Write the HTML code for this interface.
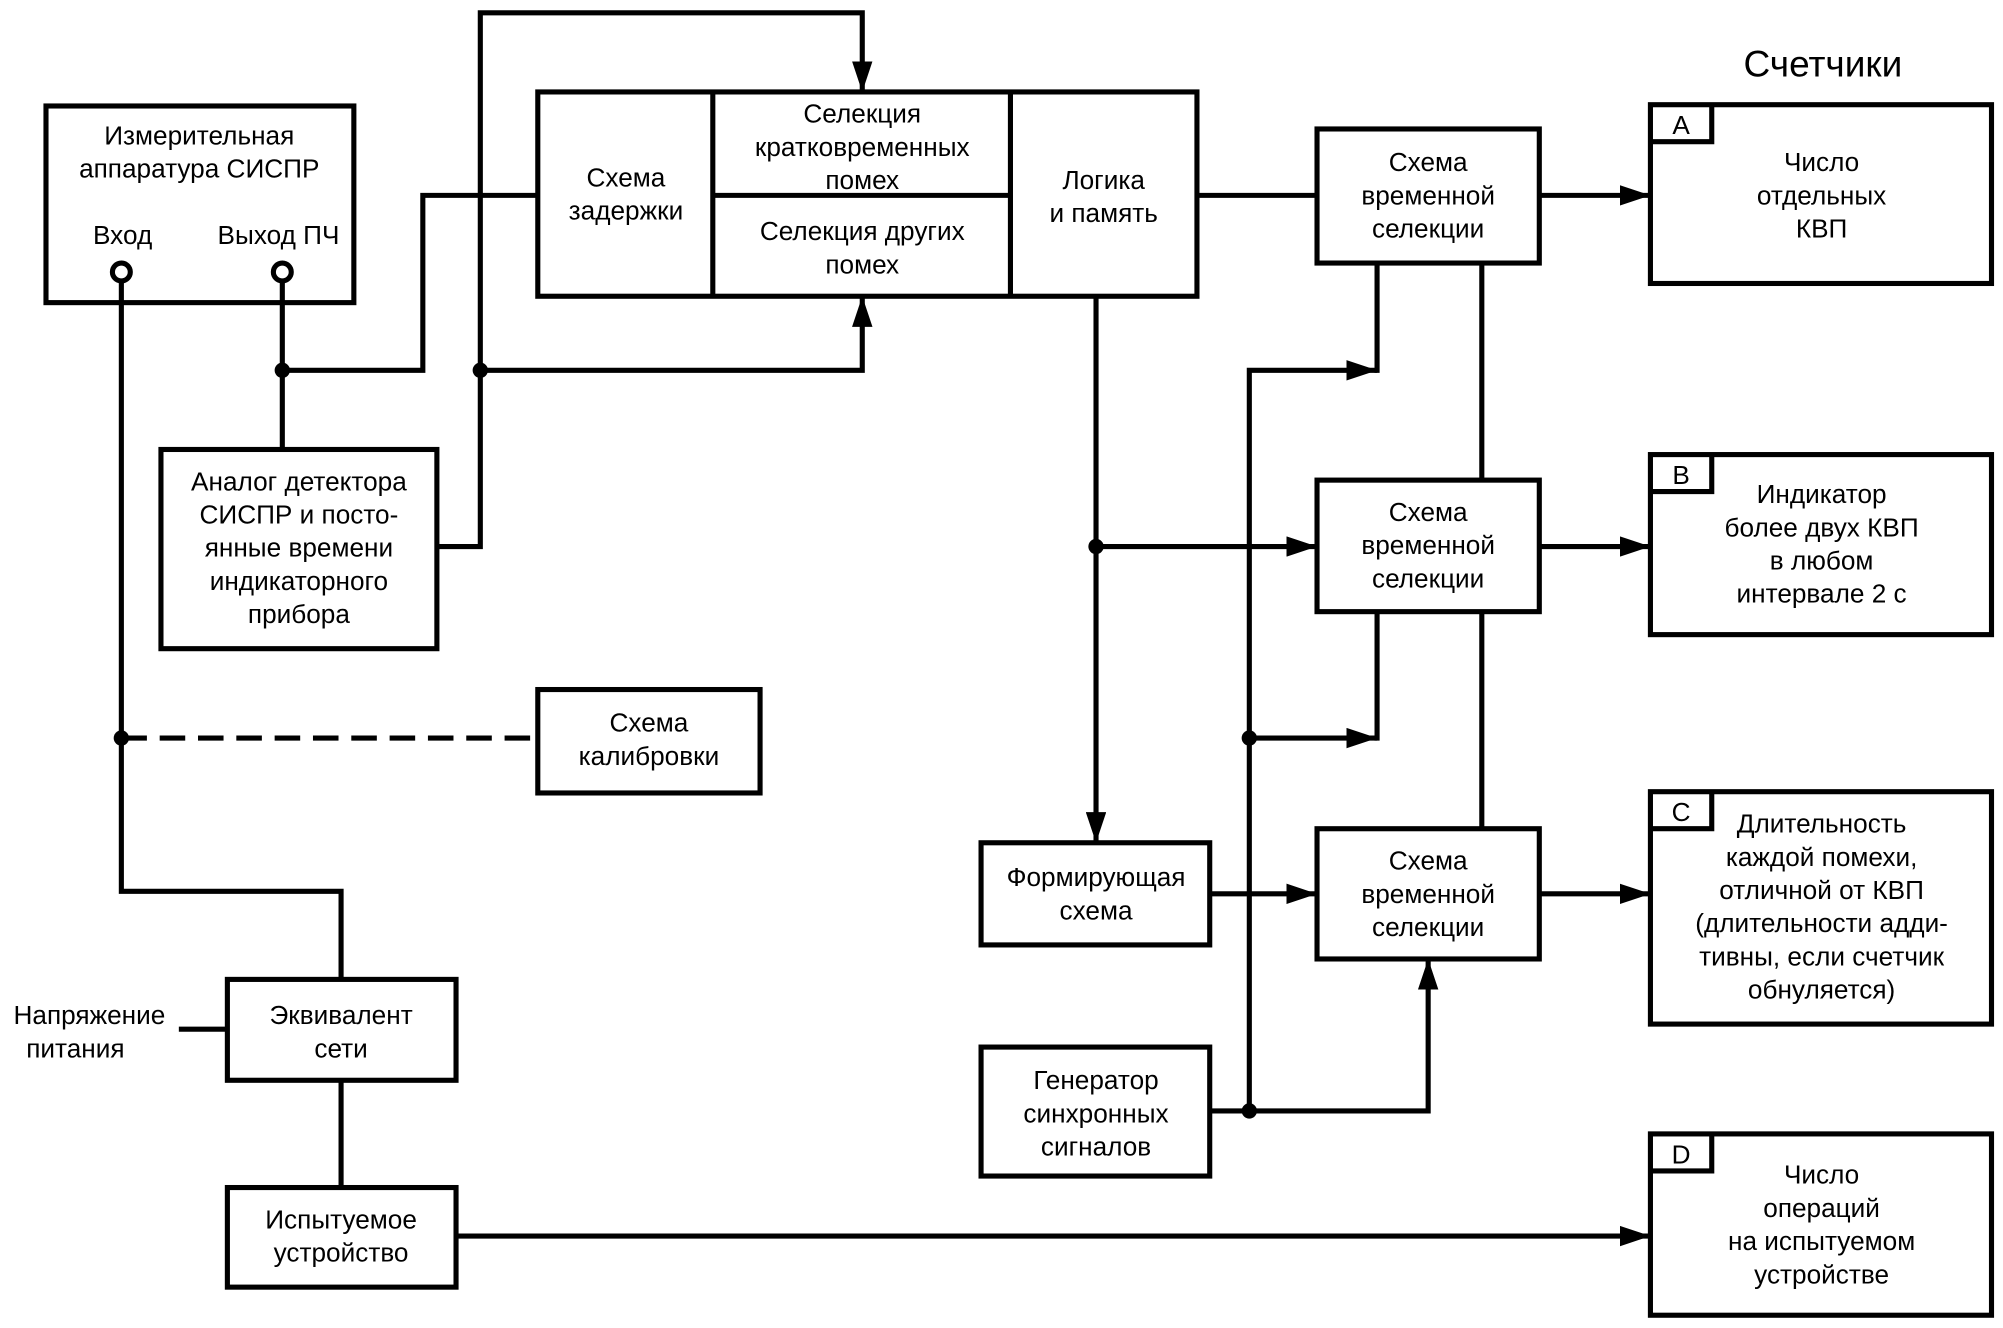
<!DOCTYPE html>
<html><head><meta charset="utf-8"><style>
html,body{margin:0;padding:0;background:#fff}
svg{display:block}
text{font-family:"Liberation Sans",Arial,sans-serif;font-size:20.5px;fill:#000;text-anchor:middle}
</style></head><body>
<svg width="2003" height="1328" viewBox="0 0 1568 1040" preserveAspectRatio="none" xmlns="http://www.w3.org/2000/svg">
<defs>
<marker id="ar" viewBox="0 0 24 16" refX="24" refY="8" markerWidth="24" markerHeight="16" markerUnits="userSpaceOnUse" orient="auto">
<path d="M0,0 L24,8 L0,16 z" fill="#000"/></marker>
</defs>
<g fill="none" stroke="#000" stroke-width="4">
<rect x="36" y="83" width="241" height="154"/>
<rect x="421" y="72" width="516" height="160"/>
<line x1="558" y1="72" x2="558" y2="232"/>
<line x1="791" y1="72" x2="791" y2="232"/>
<line x1="558" y1="153" x2="791" y2="153"/>
<rect x="1031" y="101" width="174" height="105"/>
<rect x="1292" y="82" width="267" height="140"/>
<polyline points="1292,111 1340,111 1340,82"/>
<rect x="126" y="352" width="216" height="156"/>
<rect x="421" y="540" width="174" height="81"/>
<rect x="1031" y="376" width="174" height="103"/>
<rect x="1292" y="356" width="267" height="141"/>
<polyline points="1292,385 1340,385 1340,356"/>
<rect x="768" y="660" width="179" height="80"/>
<rect x="1031" y="649" width="174" height="102"/>
<rect x="1292" y="620" width="267" height="182"/>
<polyline points="1292,649 1340,649 1340,620"/>
<rect x="768" y="820" width="179" height="101"/>
<rect x="178" y="767" width="179" height="79"/>
<rect x="178" y="930" width="179" height="78"/>
<rect x="1292" y="888" width="267" height="142"/>
<polyline points="1292,917 1340,917 1340,888"/>
<polyline points="95,220 95,698 267,698 267,767"/>
<line x1="95" y1="578" x2="421" y2="578" stroke-dasharray="20,10"/>
<line x1="221" y1="220" x2="221" y2="352"/>
<polyline points="221,290 331,290 331,153 421,153"/>
<polyline points="342,428 376,428 376,10 675,10 675,72" marker-end="url(#ar)"/>
<polyline points="376,290 675,290 675,232" marker-end="url(#ar)"/>
<line x1="937" y1="153" x2="1031" y2="153"/>
<line x1="1205" y1="153" x2="1292" y2="153" marker-end="url(#ar)"/>
<line x1="858" y1="232" x2="858" y2="660" marker-end="url(#ar)"/>
<line x1="858" y1="428" x2="1031" y2="428" marker-end="url(#ar)"/>
<line x1="1205" y1="428" x2="1292" y2="428" marker-end="url(#ar)"/>
<line x1="1205" y1="700" x2="1292" y2="700" marker-end="url(#ar)"/>
<line x1="947" y1="700" x2="1031" y2="700" marker-end="url(#ar)"/>
<line x1="1160" y1="206" x2="1160" y2="376"/>
<line x1="1160" y1="479" x2="1160" y2="649"/>
<line x1="1078" y1="206" x2="1078" y2="292"/>
<line x1="1078" y1="479" x2="1078" y2="580"/>
<polyline points="978,870 978,290 1078,290" marker-end="url(#ar)"/>
<line x1="978" y1="578" x2="1078" y2="578" marker-end="url(#ar)"/>
<polyline points="947,870 1118,870 1118,751" marker-end="url(#ar)"/>
<line x1="140" y1="806" x2="178" y2="806"/>
<line x1="267" y1="846" x2="267" y2="930"/>
<line x1="357" y1="968" x2="1292" y2="968" marker-end="url(#ar)"/>
</g>
<g fill="#fff" stroke="#000" stroke-width="4">
<circle cx="95" cy="213" r="7"/><circle cx="221" cy="213" r="7"/>
</g>
<g fill="#000">
<circle cx="221" cy="290" r="6"/><circle cx="376" cy="290" r="6"/>
<circle cx="95" cy="578" r="6"/><circle cx="858" cy="428" r="6"/>
<circle cx="978" cy="578" r="6"/><circle cx="978" cy="870" r="6"/>
</g>
<text x="1427" y="60" style="font-size:29px">Счетчики</text>
<text x="156" y="113">Измерительная</text><text x="156" y="139">аппаратура СИСПР</text>
<text x="96" y="191">Вход</text><text x="218" y="191">Выход ПЧ</text>
<text x="490" y="146">Схема</text><text x="490" y="172">задержки</text>
<text x="675" y="96">Селекция</text><text x="675" y="122">кратковременных</text><text x="675" y="148">помех</text>
<text x="675" y="188">Селекция других</text><text x="675" y="214">помех</text>
<text x="864" y="148">Логика</text><text x="864" y="174">и память</text>
<text x="1118" y="134">Схема</text><text x="1118" y="160">временной</text><text x="1118" y="186">селекции</text>
<text x="1316" y="105">A</text><text x="1426" y="134">Число</text><text x="1426" y="160">отдельных</text><text x="1426" y="186">КВП</text>
<text x="234" y="384">Аналог детектора</text><text x="234" y="410">СИСПР и посто-</text><text x="234" y="436">янные времени</text><text x="234" y="462">индикаторного</text><text x="234" y="488">прибора</text>
<text x="1118" y="408">Схема</text><text x="1118" y="434">временной</text><text x="1118" y="460">селекции</text>
<text x="1316" y="379">B</text><text x="1426" y="394">Индикатор</text><text x="1426" y="420">более двух КВП</text><text x="1426" y="446">в любом</text><text x="1426" y="472">интервале 2 с</text>
<text x="508" y="573">Схема</text><text x="508" y="599">калибровки</text>
<text x="858" y="694">Формирующая</text><text x="858" y="720">схема</text>
<text x="1118" y="681">Схема</text><text x="1118" y="707">временной</text><text x="1118" y="733">селекции</text>
<text x="1316" y="643">C</text><text x="1426" y="652">Длительность</text><text x="1426" y="678">каждой помехи,</text><text x="1426" y="704">отличной от КВП</text><text x="1426" y="730">(длительности адди-</text><text x="1426" y="756">тивны, если счетчик</text><text x="1426" y="782">обнуляется)</text>
<text x="70" y="802">Напряжение</text><text x="59" y="828">питания</text>
<text x="267" y="802">Эквивалент</text><text x="267" y="828">сети</text>
<text x="858" y="853">Генератор</text><text x="858" y="879">синхронных</text><text x="858" y="905">сигналов</text>
<text x="267" y="962">Испытуемое</text><text x="267" y="988">устройство</text>
<text x="1316" y="911">D</text><text x="1426" y="927">Число</text><text x="1426" y="953">операций</text><text x="1426" y="979">на испытуемом</text><text x="1426" y="1005">устройстве</text>
</svg>
</body></html>
